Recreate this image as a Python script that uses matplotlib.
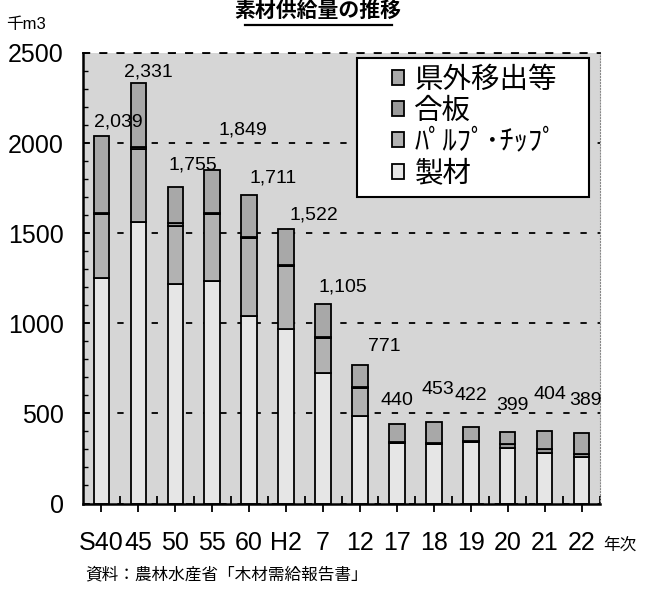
import matplotlib
matplotlib.use('Agg')
import matplotlib.pyplot as plt
from matplotlib.lines import Line2D
from matplotlib.patches import Rectangle
from matplotlib.ticker import MultipleLocator
import numpy as np

plt.rcParams['font.family'] = ['Liberation Sans', 'Noto Sans CJK JP']

# data (千m3)
years = ['S40', '45', '50', '55', '60', 'H2', '7', '12', '17', '18', '19', '20', '21', '22']
seizai = [1254, 1560, 1217, 1235, 1038, 968, 723, 486, 333, 330, 340, 310, 282, 260]
pulp = [352, 410, 324, 371, 437, 348, 197, 156, 0, 0, 0, 0, 0, 0]
gouban = [6, 6, 16, 8, 6, 6, 6, 6, 6, 4, 6, 19, 19, 15]
kengai = [427, 355, 198, 235, 230, 200, 179, 123, 101, 119, 76, 70, 103, 114]
totals = [2039, 2331, 1755, 1849, 1711, 1522, 1105, 771, 440, 453, 422, 399, 404, 389]
series_names = ['製材', 'ﾊﾟﾙﾌﾟ･ﾁｯﾌﾟ', '合板', '県外移出等']

# where each total label sits relative to its bar top (pixels)
label_offsets = [(17, 14), (10, 11), (18, 22), (31, 40), (24, 17), (28, 14), (20, 17),
                 (24, 18), (0, 24), (4, 32), (0, 32), (5, 26), (5, 36), (4, 33)]

fig = plt.figure(figsize=(6.46, 5.97), dpi=100)
ax = fig.add_axes([83/646, 1-503.5/597, 517/646, 450.5/597])
ax.set_facecolor('#d6d6d6')

x = np.arange(len(years))
w = 0.42
colors = ['#e6e6e6', '#b2b2b2', '#9a9a9a', '#a8a8a8']
bottom = np.zeros(len(years))
bars = []
for vals, c, name in zip([seizai, pulp, gouban, kengai], colors, series_names):
    b = ax.bar(x, vals, w, bottom=bottom, color=c, edgecolor='black', linewidth=1.3,
               label=name, zorder=2)
    bars.append(b)
    bottom = bottom + np.array(vals)

for i, t in enumerate(totals):
    ax.annotate(f'{t:,}', (x[i], bottom[i]), xytext=label_offsets[i],
                textcoords='offset pixels', ha='center', va='center', fontsize=14, zorder=5)

ax.set_xlim(-0.5, 13.45)
ax.set_ylim(0, 2500)
ax.set_yticks([0, 500, 1000, 1500, 2000, 2500])
ax.yaxis.set_minor_locator(MultipleLocator(100))
ax.set_xticks(x)
ax.set_xticklabels(years)
ax.set_xticks(x + 0.5, minor=True)

ax.tick_params(axis='y', which='major', direction='in', length=5, width=1.2, pad=14, labelsize=18)
ax.tick_params(axis='y', which='minor', direction='in', length=3.5, width=1)
ax.tick_params(axis='x', which='major', direction='inout', length=12, width=1.3, pad=14, labelsize=18)
ax.tick_params(axis='x', which='minor', direction='in', length=6, width=1.3)

ax.yaxis.grid(True, which='major', color='black', linestyle=(0, (3.5, 6)), linewidth=1.3)
ax.set_axisbelow(True)

ax.spines['left'].set_linewidth(1.8)
ax.spines['bottom'].set_linewidth(1.8)
ax.spines['top'].set_linestyle((0, (3.5, 6)))
ax.spines['top'].set_linewidth(1.3)
ax.spines['right'].set_color('#888888')
ax.spines['right'].set_linestyle(':')

# legend box drawn by hand so it sits where the original one does
ax.add_patch(Rectangle((0.530, 0.680), 0.449, 0.309, transform=ax.transAxes,
                       facecolor='white', edgecolor='black', linewidth=1.5, zorder=3))
handles = bars[::-1]
labels = series_names[::-1]
leg = ax.legend(handles, labels, loc='upper left', bbox_to_anchor=(0.597, 0.968),
                frameon=False, fontsize=20.5, handlelength=0.45, handleheight=0.45,
                handletextpad=0.35, labelspacing=0.17, borderpad=0, borderaxespad=0)
leg.set_zorder(4)

# title (the original shows it clipped at the top edge; kept whole here)
fig.text(318/646, 1-1/597, '素材供給量の推移', ha='center', va='top',
         fontsize=15, fontweight='bold')
fig.add_artist(Line2D([245/646, 392/646], [1-25/597, 1-25/597], color='black',
                      linewidth=1.6, transform=fig.transFigure))

fig.text(6/646, 1-25/597, '千m3', ha='left', va='center', fontsize=12)
fig.text(603/646, 1-545/597, '年次', ha='left', va='center', fontsize=12)
fig.text(85/646, 1-575/597, '資料：農林水産省「木材需給報告書」', ha='left', va='center', fontsize=12)

fig.savefig('out.png', dpi=100)
